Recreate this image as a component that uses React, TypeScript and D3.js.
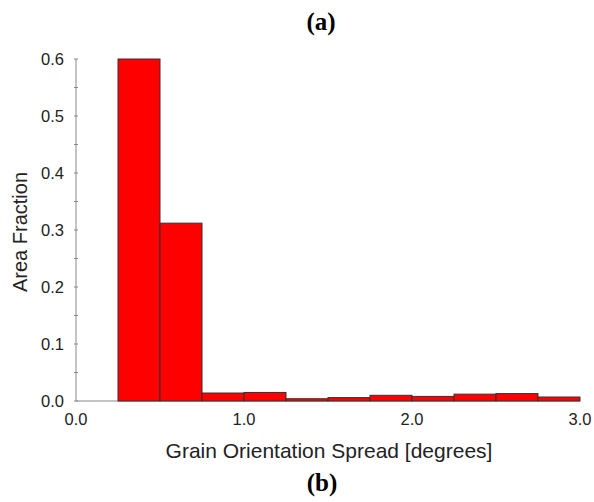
import React from "react";
import * as d3 from "d3";

// Histogram of grain orientation spread, bin width 0.25 degrees
const binStarts = [0.25, 0.5, 0.75, 1.0, 1.25, 1.5, 1.75, 2.0, 2.25, 2.5, 2.75];
const areaFractions = [0.6, 0.312, 0.014, 0.015, 0.004, 0.006, 0.01, 0.008, 0.012, 0.013, 0.007];
const binWidth = 0.25;
const xTicks = [0.0, 1.0, 2.0, 3.0];
const yTicks = [0, 0.1, 0.2, 0.3, 0.4, 0.5, 0.6];

const W = 594;
const H = 502;

export default function App() {
  const x = d3.scaleLinear().domain([0, 3]).range([76, 580]);
  const y = d3.scaleLinear().domain([0, 0.6]).range([401, 59]);
  const minorY = d3.range(0, 0.6001, 0.05);
  const sans = "'Liberation Sans', Arial, sans-serif";
  const serif = "'Liberation Serif', 'Times New Roman', serif";
  const textColor = "#222";

  return (
    <svg
      width={W}
      height={H}
      style={{ position: "absolute", left: 0, top: 0, background: "#fff" }}
    >
      <text x={321} y={30} textAnchor="middle" fontFamily={serif} fontWeight="bold" fontSize={25} fill="#000">
        (a)
      </text>

      {/* axes */}
      <line x1={x(0)} x2={x(0)} y1={y(0)} y2={y(0.6)} stroke="#888" strokeWidth={1} />
      <line x1={x(0)} x2={x(3)} y1={y(0)} y2={y(0)} stroke="#888" strokeWidth={1} />
      {minorY.map((v, i) => (
        <line key={i} x1={x(0) - 2} x2={x(0) + 2} y1={y(v)} y2={y(v)} stroke="#888" strokeWidth={1} />
      ))}

      {/* bars */}
      {binStarts.map((s, i) => (
        <rect
          key={i}
          x={x(s)}
          y={y(areaFractions[i])}
          width={x(s + binWidth) - x(s)}
          height={y(0) - y(areaFractions[i])}
          fill="#ff0000"
          stroke="#333"
          strokeWidth={1}
        />
      ))}

      {/* y tick labels */}
      {yTicks.map((v, i) => (
        <text
          key={i}
          x={64}
          y={y(v)}
          dy="0.35em"
          textAnchor="end"
          fontFamily={sans}
          fontSize={16.5}
          fill={textColor}
        >
          {d3.format(".1f")(v)}
        </text>
      ))}

      {/* x tick labels */}
      {xTicks.map((v, i) => (
        <text
          key={i}
          x={x(v)}
          y={425}
          textAnchor="middle"
          fontFamily={sans}
          fontSize={16.5}
          fill={textColor}
        >
          {d3.format(".1f")(v)}
        </text>
      ))}

      <text x={329} y={458} textAnchor="middle" fontFamily={sans} fontSize={21} fill={textColor}>
        Grain Orientation Spread [degrees]
      </text>
      <text
        transform={`translate(27,232) rotate(-90)`}
        textAnchor="middle"
        fontFamily={sans}
        fontSize={20}
        fill={textColor}
      >
        Area Fraction
      </text>

      <text x={322} y={491} textAnchor="middle" fontFamily={serif} fontWeight="bold" fontSize={25} fill="#000">
        (b)
      </text>
    </svg>
  );
}
